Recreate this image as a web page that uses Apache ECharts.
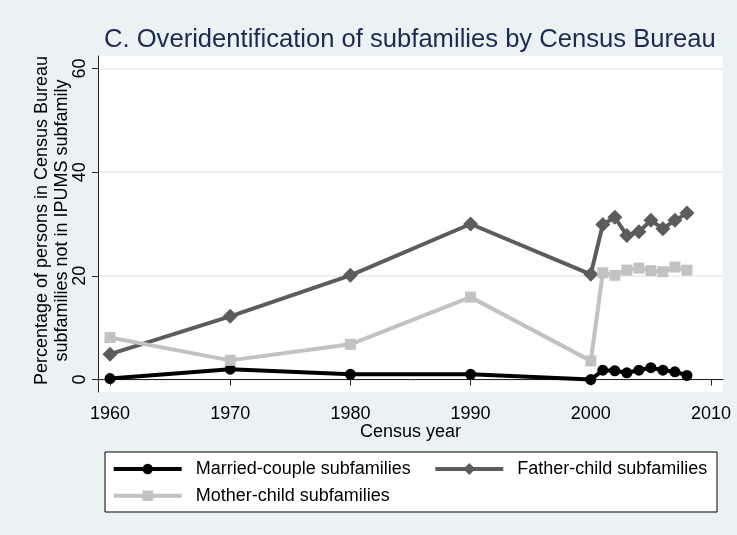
<!DOCTYPE html>
<html><head><meta charset="utf-8">
<script src="https://cdn.jsdelivr.net/npm/echarts@6/dist/echarts.min.js"></script>
<style>html,body{margin:0;padding:0;background:#eaf2f3}#c{width:737px;height:535px}</style>
</head><body><div id="c"></div>
<script>
const years = [1960, 1970, 1980, 1990, 2000, 2001, 2002, 2003, 2004, 2005, 2006, 2007, 2008];
const married = [0.2, 2.0, 1.0, 1.0, 0.0, 1.8, 1.7, 1.3, 1.8, 2.3, 1.8, 1.5, 0.8];
const father = [4.9, 12.2, 20.1, 30.0, 20.3, 29.9, 31.3, 27.8, 28.5, 30.7, 29.1, 30.7, 32.1];
const mother = [8.1, 3.7, 6.8, 15.9, 3.6, 20.6, 20.1, 21.1, 21.5, 21.0, 20.8, 21.7, 21.1];
const xTicks = [1960, 1970, 1980, 1990, 2000, 2010];
const yTicks = [0, 20, 40, 60];
const seriesNames = ['Married-couple subfamilies', 'Father-child subfamilies', 'Mother-child subfamilies'];
const titleText = 'C. Overidentification of subfamilies by Census Bureau';
const xName = 'Census year';
const yName = 'Percentage of persons in Census Bureau\nsubfamilies not in IPUMS subfamily';

const FONT = 'Liberation Sans';
const pairs = arr => years.map((y, i) => [y, arr[i]]);
const chart = echarts.init(document.getElementById('c'), null, {renderer: 'canvas'});
const legendBase = {
  orient: 'horizontal', padding: 0, itemWidth: 68,
  textStyle: {fontSize: 18, color: '#000', fontFamily: FONT, padding: [0, 0, 0, 9]},
  lineStyle: {width: 4},
  selectedMode: false
};
chart.setOption({
  backgroundColor: '#eaf2f3',
  animation: false,
  textStyle: {fontFamily: FONT},
  title: {
    text: titleText, left: 104, top: 26.5, padding: 0,
    textStyle: {fontSize: 25.6, fontWeight: 'normal', color: '#1a2a50', fontFamily: FONT}
  },
  grid: {left: 98, right: 14, top: 56, bottom: 143, show: true, backgroundColor: '#ffffff', borderWidth: 0, containLabel: false},
  xAxis: {
    type: 'value', min: 1959, max: 2011,
    axisLine: {show: true, lineStyle: {color: '#222', width: 1}},
    axisTick: {show: true, customValues: xTicks, length: 6, lineStyle: {color: '#222'}},
    axisLabel: {customValues: xTicks, fontSize: 18, color: '#000', margin: 13.5, formatter: v => String(v)},
    splitLine: {show: false},
    name: xName, nameLocation: 'middle', nameGap: 30.6, nameMoveOverlap: false,
    nameTextStyle: {fontSize: 18, color: '#000'}
  },
  yAxis: {
    type: 'value', min: -2.4, max: 62.4,
    axisLine: {show: true, lineStyle: {color: '#222', width: 1}},
    axisTick: {show: true, customValues: yTicks, length: 6, lineStyle: {color: '#222'}},
    axisLabel: {customValues: yTicks, rotate: 90, fontSize: 18, color: '#000', margin: 9, formatter: v => String(v)},
    splitLine: {show: true, lineStyle: {color: '#e4ecef', width: 1.5}},
    name: yName, nameLocation: 'middle', nameRotate: 90, nameGap: 26, nameMoveOverlap: false,
    nameTextStyle: {fontSize: 18, lineHeight: 20, color: '#000', align: 'center', padding: [0, 0, 0, 7]}
  },
  graphic: [{
    type: 'rect', shape: {x: 105, y: 452, width: 612, height: 60},
    style: {fill: '#ffffff', stroke: '#000', lineWidth: 1}, z: 0
  }],
  legend: [
    Object.assign({}, legendBase, {data: [seriesNames[0]], left: 111.7, top: 460, itemHeight: 13}),
    Object.assign({}, legendBase, {data: [seriesNames[1]], left: 433.3, top: 460, itemHeight: 15}),
    Object.assign({}, legendBase, {data: [seriesNames[2]], left: 111.7, top: 486.7, itemHeight: 13})
  ],
  series: [
    {name: seriesNames[0], type: 'line', data: pairs(married), symbol: 'circle', symbolSize: 11,
     lineStyle: {color: '#000', width: 4}, itemStyle: {color: '#000'}},
    {name: seriesNames[1], type: 'line', data: pairs(father), symbol: 'diamond', symbolSize: 15,
     lineStyle: {color: '#5c5c5c', width: 4}, itemStyle: {color: '#5c5c5c'}},
    {name: seriesNames[2], type: 'line', data: pairs(mother), symbol: 'rect', symbolSize: 11,
     lineStyle: {color: '#c2c2c2', width: 4}, itemStyle: {color: '#c2c2c2'}}
  ]
});
</script></body></html>
